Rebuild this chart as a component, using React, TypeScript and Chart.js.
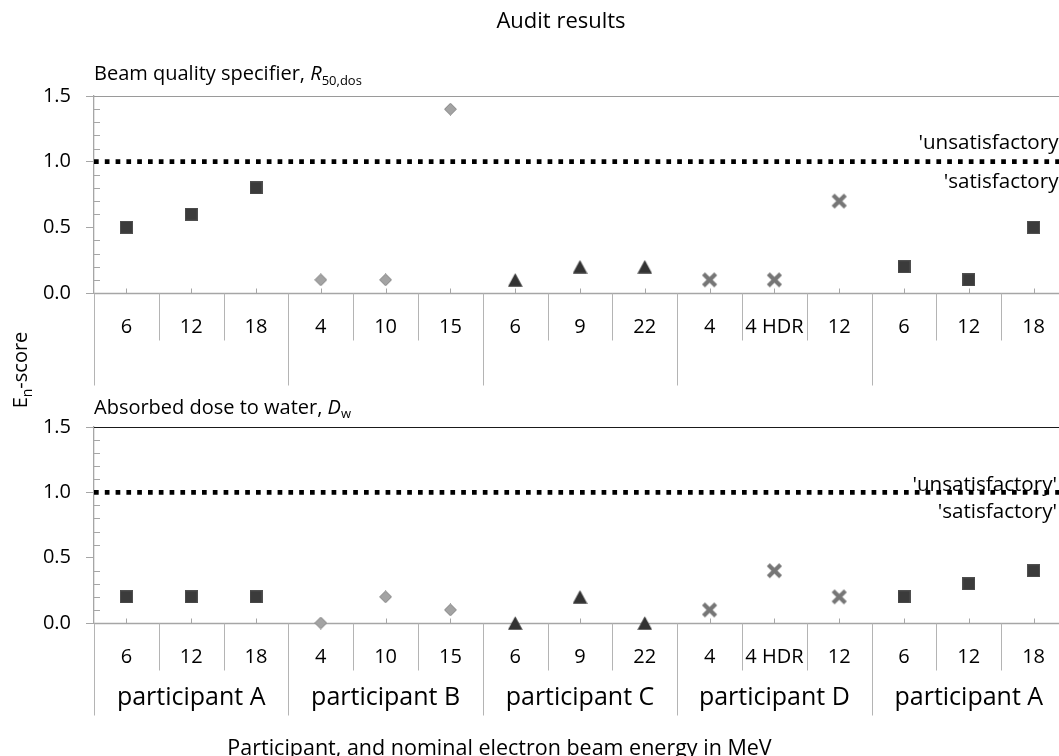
import React, { useEffect, useRef } from 'react';
import { Chart, registerables } from 'chart.js';

Chart.register(...registerables);

// ---- data ----
const energyLabels = ['6', '12', '18', '4', '10', '15', '6', '9', '22', '4', '4 HDR', '12', '6', '12', '18'];
const participantLabels = ['participant A', 'participant B', 'participant C', 'participant D', 'participant A'];
const participantMarkers = ['square', 'diamond', 'triangle', 'cross', 'square'];
const groupSize = 3;
const r50Scores = [0.5, 0.6, 0.8, 0.1, 0.1, 1.4, 0.1, 0.2, 0.2, 0.1, 0.1, 0.7, 0.2, 0.1, 0.5];
const dwScores = [0.2, 0.2, 0.2, 0.0, 0.2, 0.1, 0.0, 0.2, 0.0, 0.1, 0.4, 0.2, 0.2, 0.3, 0.4];
const yMin = 0;
const yMax = 1.5;
const yStep = 0.5;
const yMinorStep = 0.1;
const limitScore = 1.0;
const chartTitle = 'Audit results';
const xAxisTitle = 'Participant, and nominal electron beam energy in MeV';
const unsatText = "'unsatisfactory'";
const satText = "'satisfactory'";

// ---- layout / style ----
const FONT = '"Open Sans", "Noto Sans", sans-serif';
const W = 1075;
const H = 756;
const PLOT_LEFT = 94;
const PLOT_RIGHT = 1069;
const GRID = '#a6a6a6';
const TEXT = '#000';

Chart.defaults.font.family = FONT;

type Part = { t: string; italic?: boolean; sub?: boolean };

function seg(ctx: CanvasRenderingContext2D, x1: number, y1: number, x2: number, y2: number, color: string, w: number) {
  ctx.beginPath();
  ctx.strokeStyle = color;
  ctx.lineWidth = w;
  ctx.moveTo(x1, y1);
  ctx.lineTo(x2, y2);
  ctx.stroke();
}

function drawRich(ctx: CanvasRenderingContext2D, parts: Part[], x: number, capY: number, size: number, subSize: number, align: 'left' | 'center' | 'right') {
  const fontOf = (p: Part) => `${p.italic ? 'italic ' : ''}${p.sub ? subSize : size}px ${FONT}`;
  let total = 0;
  for (const p of parts) {
    ctx.font = fontOf(p);
    total += ctx.measureText(p.t).width;
  }
  let cx = align === 'center' ? x - total / 2 : align === 'right' ? x - total : x;
  const base = capY + size * 0.357;
  ctx.fillStyle = TEXT;
  ctx.textAlign = 'left';
  ctx.textBaseline = 'alphabetic';
  for (const p of parts) {
    ctx.font = fontOf(p);
    ctx.fillText(p.t, cx, base + (p.sub ? size * 0.22 : 0));
    cx += ctx.measureText(p.t).width;
  }
}

function txt(ctx: CanvasRenderingContext2D, s: string, x: number, capY: number, size: number, align: CanvasTextAlign = 'center') {
  ctx.font = `${size}px ${FONT}`;
  ctx.fillStyle = TEXT;
  ctx.textAlign = align;
  ctx.textBaseline = 'alphabetic';
  ctx.fillText(s, x, capY + size * 0.357);
}

function makeMarkers() {
  const mk = (w: number, h: number, draw: (c: CanvasRenderingContext2D) => void) => {
    const cv = document.createElement('canvas');
    cv.width = w;
    cv.height = h;
    draw(cv.getContext('2d')!);
    return cv;
  };
  return {
    square: mk(13, 13, (c) => {
      c.fillStyle = '#3b3b3b';
      c.fillRect(0, 0, 13, 13);
      c.strokeStyle = '#4f4f4f';
      c.lineWidth = 1;
      c.strokeRect(0.5, 0.5, 12, 12);
    }),
    diamond: mk(13, 13, (c) => {
      c.beginPath();
      c.moveTo(6.5, 0.5);
      c.lineTo(12.5, 6.5);
      c.lineTo(6.5, 12.5);
      c.lineTo(0.5, 6.5);
      c.closePath();
      c.fillStyle = '#a3a3a3';
      c.fill();
      c.strokeStyle = '#878787';
      c.lineWidth = 1;
      c.stroke();
    }),
    triangle: mk(15, 14, (c) => {
      c.beginPath();
      c.moveTo(7.5, 0.3);
      c.lineTo(14.8, 13.7);
      c.lineTo(0.2, 13.7);
      c.closePath();
      c.fillStyle = '#333333';
      c.fill();
    }),
    cross: mk(17, 17, (c) => {
      c.strokeStyle = '#767676';
      c.lineWidth = 4.2;
      c.lineCap = 'butt';
      c.beginPath();
      c.moveTo(2.4, 2.4);
      c.lineTo(14.6, 14.6);
      c.moveTo(14.6, 2.4);
      c.lineTo(2.4, 14.6);
      c.stroke();
    }),
  } as Record<string, HTMLCanvasElement>;
}

type Panel = {
  scores: number[];
  top: number;
  bottom: number;
  topLineColor: string;
  subtitle: Part[];
  subtitleOffset: number;
  unsatOffset: number;
  satOffset: number;
  labelRight: number;
  showParticipants: boolean;
  drawTitle: boolean;
  drawXTitle: boolean;
};

const panelTop: Panel = {
  scores: r50Scores,
  top: 96,
  bottom: 293,
  topLineColor: '#9a9a9a',
  subtitle: [{ t: 'Beam quality specifier, ' }, { t: 'R', italic: true }, { t: '50,dos', sub: true }],
  subtitleOffset: 23,
  unsatOffset: -20,
  satOffset: 19,
  labelRight: 1063,
  showParticipants: false,
  drawTitle: true,
  drawXTitle: false,
};

const panelBottom: Panel = {
  scores: dwScores,
  top: 427,
  bottom: 623,
  topLineColor: '#1a1a1a',
  subtitle: [{ t: 'Absorbed dose to water, ' }, { t: 'D', italic: true }, { t: 'w', sub: true }],
  subtitleOffset: 20.5,
  unsatOffset: -9,
  satOffset: 18,
  labelRight: 1057,
  showParticipants: true,
  drawTitle: false,
  drawXTitle: true,
};

function decorPlugin(panel: Panel) {
  return {
    id: 'panelDecor',
    beforeDatasetsDraw(chart: any) {
      const { ctx, chartArea: a, scales } = chart;
      const x = scales.x;
      const y = scales.y;
      const y0 = Math.round(y.getPixelForValue(0)) + 0.5;
      const yTop = Math.round(y.getPixelForValue(yMax)) + 0.5;
      const y1 = y.getPixelForValue(limitScore);
      ctx.save();
      seg(ctx, a.left, yTop, a.right, yTop, panel.topLineColor, 1.2);
      const nMinor = Math.round((yMax - yMin) / yMinorStep);
      const ratio = Math.round(yStep / yMinorStep);
      for (let k = 1; k < nMinor; k++) {
        if (k % ratio === 0) continue;
        const yy = Math.round(y.getPixelForValue(yMin + k * yMinorStep)) + 0.5;
        seg(ctx, a.left, yy, a.left + 6, yy, GRID, 1);
      }
      seg(ctx, a.left, y0, a.right, y0, GRID, 1.3);
      energyLabels.forEach((_, i) => {
        const xx = Math.round(x.getPixelForValue(i)) + 0.5;
        seg(ctx, xx, y0, xx, y0 - 5, GRID, 1);
      });
      for (let i = 0; i <= energyLabels.length; i++) {
        const xx = Math.round(x.getPixelForValue(i - 0.5)) + 0.5;
        const len = i % groupSize === 0 ? 92 : 47;
        seg(ctx, xx, y0, xx, y0 + len, '#b4b4b4', 1);
      }
      ctx.setLineDash([4.7, 6.1]);
      seg(ctx, a.left, y1, a.right, y1, '#000', 4.7);
      ctx.setLineDash([]);
      ctx.restore();
    },
    afterDraw(chart: any) {
      const { ctx, chartArea: a, scales } = chart;
      const x = scales.x;
      const y = scales.y;
      const y0 = y.getPixelForValue(0);
      const y1 = y.getPixelForValue(limitScore);
      const yTop = y.getPixelForValue(yMax);
      ctx.save();
      drawRich(ctx, panel.subtitle, a.left, yTop - panel.subtitleOffset, 20, 13, 'left');
      txt(ctx, unsatText, panel.labelRight, y1 + panel.unsatOffset, 20.6, 'right');
      txt(ctx, satText, panel.labelRight, y1 + panel.satOffset, 20.6, 'right');
      energyLabels.forEach((lab, i) => {
        txt(ctx, lab, x.getPixelForValue(i), y0 + 33, 20, 'center');
      });
      if (panel.showParticipants) {
        participantLabels.forEach((lab, g) => {
          const cx = x.getPixelForValue(g * groupSize + (groupSize - 1) / 2);
          txt(ctx, lab, cx, y0 + 72.7, 25, 'center');
        });
      }
      if (panel.drawTitle) {
        txt(ctx, chartTitle, 561, 20, 22, 'center');
        ctx.save();
        ctx.translate(20, 370);
        ctx.rotate(-Math.PI / 2);
        drawRich(ctx, [{ t: 'E' }, { t: 'n', sub: true }, { t: '-score' }], 0, 0, 20, 14, 'center');
        ctx.restore();
      }
      if (panel.drawXTitle) {
        txt(ctx, xAxisTitle, 499.5, y0 + 124, 21.5, 'center');
      }
      ctx.restore();
    },
  };
}

function buildConfig(panel: Panel, markers: Record<string, HTMLCanvasElement>): any {
  const kinds = ['square', 'diamond', 'triangle', 'cross'];
  const datasets = kinds.map((kind) => ({
    label: kind,
    data: panel.scores.map((v, i) => (participantMarkers[Math.floor(i / groupSize)] === kind ? v : null)),
    showLine: false,
    pointStyle: markers[kind],
    pointRadius: 8,
    pointHoverRadius: 8,
    clip: false,
  }));
  return {
    type: 'line',
    data: { labels: energyLabels, datasets },
    plugins: [decorPlugin(panel)],
    options: {
      responsive: false,
      animation: false,
      devicePixelRatio: 1,
      events: [],
      layout: { padding: { left: 0, right: W - PLOT_RIGHT, top: panel.top, bottom: H - panel.bottom } },
      plugins: { legend: { display: false }, tooltip: { enabled: false }, title: { display: false } },
      scales: {
        x: { type: 'category', offset: true, display: false },
        y: {
          min: yMin,
          max: yMax,
          afterFit: (s: any) => {
            s.width = PLOT_LEFT;
          },
          ticks: {
            stepSize: yStep,
            padding: 15,
            color: TEXT,
            font: { family: FONT, size: 20 },
            callback: (v: any) => Number(v).toFixed(1),
          },
          grid: { drawOnChartArea: false, drawTicks: true, tickLength: 8, color: GRID, lineWidth: 1 },
          border: { color: GRID, width: 1.3 },
        },
      },
    },
  };
}

export default function App() {
  const topRef = useRef<HTMLCanvasElement>(null);
  const botRef = useRef<HTMLCanvasElement>(null);
  useEffect(() => {
    const markers = makeMarkers();
    const c1 = new Chart(topRef.current as HTMLCanvasElement, buildConfig(panelTop, markers));
    const c2 = new Chart(botRef.current as HTMLCanvasElement, buildConfig(panelBottom, markers));
    return () => {
      c1.destroy();
      c2.destroy();
    };
  }, []);
  return (
    <div style={{ position: 'fixed', left: 0, top: 0, width: 1059, height: 756, overflow: 'hidden', background: '#fff' }}>
      <canvas ref={topRef} width={W} height={H} style={{ position: 'absolute', left: 0, top: 0 }} />
      <canvas ref={botRef} width={W} height={H} style={{ position: 'absolute', left: 0, top: 0 }} />
    </div>
  );
}
